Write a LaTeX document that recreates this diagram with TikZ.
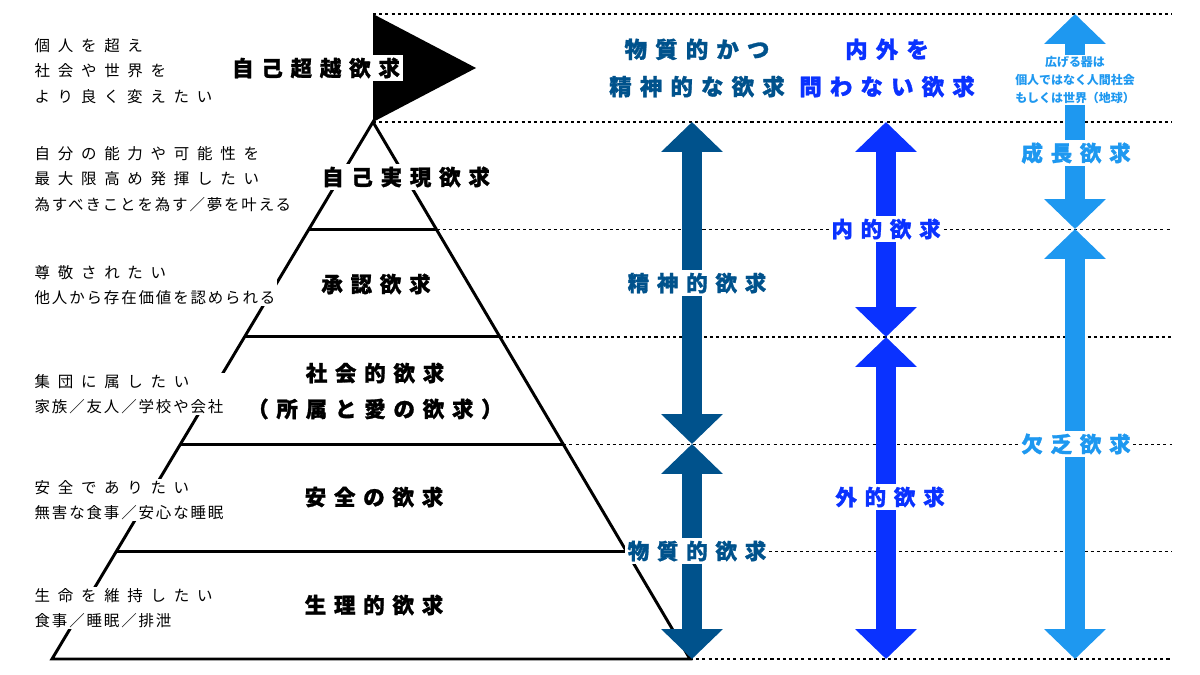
\documentclass[tikz,border=0pt]{standalone}
\usepackage{fontspec}
\usetikzlibrary{arrows.meta,calc}
\newfontfamily\jptight[LetterSpace=12]{Noto Sans CJK JP}
\newfontfamily\jpwide[LetterSpace=50]{Noto Sans CJK JP}
\newfontfamily\jpheavy[LetterSpace=36,BoldFeatures={FakeBold=1.2}]{Noto Sans CJK JP}
\newfontfamily\jpsmall{Noto Sans CJK JP}
\definecolor{deepblue}{RGB}{0,82,140}
\definecolor{pureblue}{RGB}{10,50,255}
\definecolor{skyblue}{RGB}{30,152,240}
\tikzset{
    dotline/.style={line width=1pt,dash pattern=on 2.2pt off 2.2pt},
    pyramid/.style={line width=2.1pt},
    fatarrow/.style={line width=14.2pt,>={Triangle[width=42.7pt,length=21.3pt]},<->},
    needlabel/.style={fill=white,inner sep=2pt,align=center,
        font=\jpheavy\bfseries\fontsize{15.3}{25.5}\selectfont},
    sidenote/.style={fill=white,inner sep=1pt,anchor=west,align=left,
        font=\fontsize{11}{18.1}\selectfont},
}

\begin{document}
\begin{tikzpicture}[x=0.025cm,y=-0.025cm]
    \useasboundingbox (0,0) rectangle (1200,675);
    \coordinate (apex) at (373,122);
    \coordinate (baseL) at (52,659);
    \coordinate (baseR) at (690,659);
    \coordinate (flagtop) at (373,14);
    \coordinate (lineend) at (1172,0);
    \foreach \t/\n in {0.2/1,0.4/2,0.6/3,0.8/4}{
        \coordinate (L\n) at ($(apex)!\t!(baseL)$);
        \coordinate (R\n) at ($(apex)!\t!(baseR)$);
    }
    % dotted guides
    \foreach \p in {flagtop,apex,R1,R2,R3,R4,baseR}
        \draw[dotline] (\p) -- (\p -| lineend);
    % pyramid and flag
    \draw[pyramid] (apex) -- (baseL) -- (baseR) -- cycle;
    \foreach \n in {1,...,4}
        \draw[pyramid] (L\n) -- (R\n);
    \fill (flagtop) -- (476,68) coordinate (flagtip) -- (apex) -- cycle;

    \node[needlabel] (trans) at (316,68) {自己超越欲求};
    \node[needlabel] (self) at (406,177) {自己実現欲求};
    \node[needlabel] (esteem) at (376,284) {承認欲求};
    \node[needlabel] (social) at (375,391) {社会的欲求\\（所属と愛の欲求）};
    \node[needlabel] (safety) at (374,497) {安全の欲求};
    \node[needlabel] (body) at (374,605) {生理的欲求};

    % left notes
    \node[sidenote] (n1) at (33,71) {{\jpwide 個人を超え}\\{\jpwide 社会や世界を}\\{\jpwide より良く変えたい}};
    \node[sidenote] (n2) at (33,179) {{\jpwide 自分の能力や可能性を}\\{\jpwide 最大限高め発揮したい}\\{\jptight 為すべきことを為す／夢を叶える}};
    \node[sidenote] (n3) at (33,285) {{\jpwide 尊敬されたい}\\{\jptight 他人から存在価値を認められる}};
    \node[sidenote] (n4) at (33,394) {{\jpwide 集団に属したい}\\{\jptight 家族／友人／学校や会社}};
    \node[sidenote] (n5) at (33,500) {{\jpwide 安全でありたい}\\{\jptight 無害な食事／安心な睡眠}};
    \node[sidenote] (n6) at (33,608) {{\jpwide 生命を維持したい}\\{\jptight 食事／睡眠／排泄}};

    \begin{scope}[color=deepblue] % material / mental
        \coordinate (m0) at (692,122);
        \coordinate (m1) at (692,444);
        \coordinate (m2) at (692,659);
        \draw[fatarrow] (m0) -- (m1);
        \draw[fatarrow] (m1) -- (m2);
        \node[needlabel,font=\jpheavy\bfseries\fontsize{16}{26.5}\selectfont] (mhead) at (697,68) {物質的かつ\\精神的な欲求};
        \node[needlabel] (mental) at (697,283) {精神的欲求};
        \node[needlabel] (material) at (697,551) {物質的欲求};
    \end{scope}
    \begin{scope}[color=pureblue] % inner / outer
        \coordinate (d0) at (886,122);
        \coordinate (d1) at (886,337);
        \coordinate (d2) at (886,659);
        \draw[fatarrow] (d0) -- (d1);
        \draw[fatarrow] (d1) -- (d2);
        \node[needlabel,font=\jpheavy\bfseries\fontsize{16}{26.5}\selectfont] (dhead) at (887,68) {内外を\\問わない欲求};
        \node[needlabel] (inner) at (886,229) {内的欲求};
        \node[needlabel] (outer) at (890,497) {外的欲求};
    \end{scope}
    \begin{scope}[color=skyblue] % growth / deficiency
        \coordinate (g0) at (1075,14);
        \coordinate (g1) at (1075,229);
        \coordinate (g2) at (1075,659);
        \draw[fatarrow] (g0) -- (g1);
        \draw[fatarrow] (g1) -- (g2);
        \node[fill=white,inner sep=1pt,align=center,font=\jpsmall\bfseries\fontsize{8.5}{12.8}\selectfont]
            (vessel) at (1075,80) {広げる器は\\個人ではなく人間社会\\もしくは世界（地球）};
        \node[needlabel] (growth) at (1076,153) {成長欲求};
        \node[needlabel] (lack) at (1076,444) {欠乏欲求};
    \end{scope}
\end{tikzpicture}
\end{document}
